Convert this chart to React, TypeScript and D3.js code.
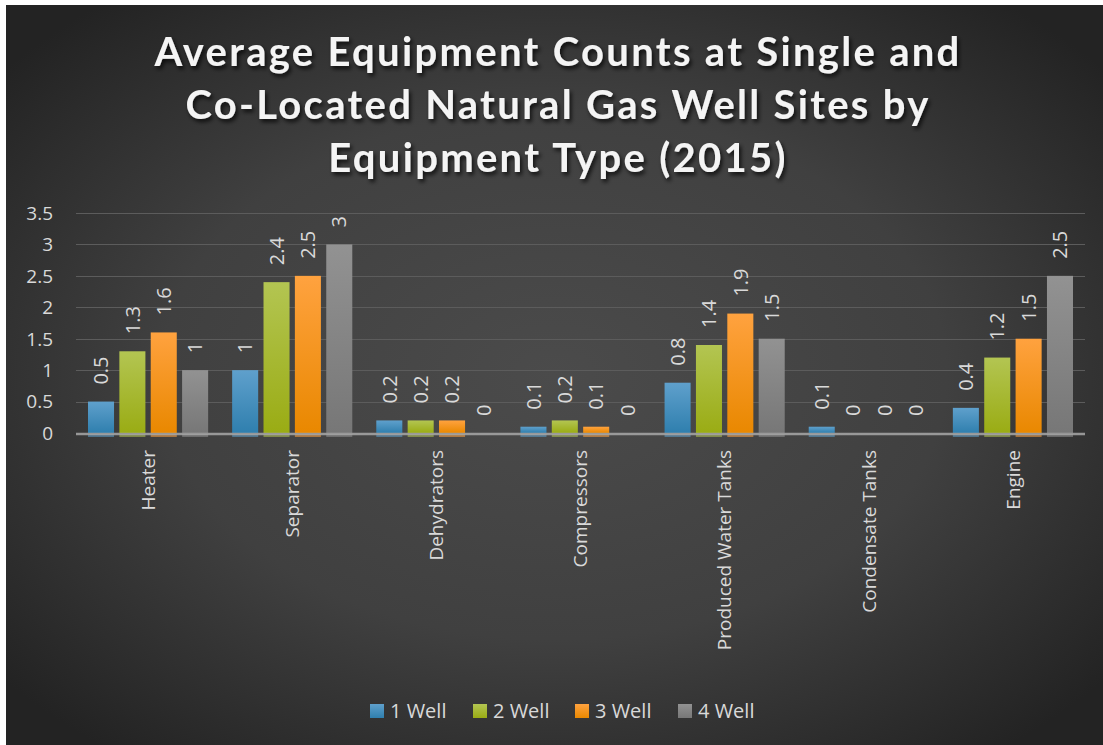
import React from "react";
import * as d3 from "d3";

const categories = [
  "Heater",
  "Separator",
  "Dehydrators",
  "Compressors",
  "Produced Water Tanks",
  "Condensate Tanks",
  "Engine",
];
const seriesNames = ["1 Well", "2 Well", "3 Well", "4 Well"];
const well1 = [0.5, 1, 0.2, 0.1, 0.8, 0.1, 0.4];
const well2 = [1.3, 2.4, 0.2, 0.2, 1.4, 0, 1.2];
const well3 = [1.6, 2.5, 0.2, 0.1, 1.9, 0, 1.5];
const well4 = [1, 3, 0, 0, 1.5, 0, 2.5];
const yTicks = [0, 0.5, 1, 1.5, 2, 2.5, 3, 3.5];
const titleLines = [
  "Average Equipment Counts at Single and",
  "Co-Located Natural Gas Well Sites by",
  "Equipment Type (2015)",
];

const seriesValues = [well1, well2, well3, well4];
const seriesColors = [
  { top: "#5fa0cc", bottom: "#2f7fae" },
  { top: "#b3c552", bottom: "#9aac14" },
  { top: "#ffa23f", bottom: "#e98800" },
  { top: "#929292", bottom: "#777777" },
];

const W = 1097;
const H = 740;
const OX = 6; // svg offset inside page
const OY = 5;

export default function App() {
  const plotLeft = 76 - OX;
  const plotRight = 1085 - OX;
  const yZero = 433 - OY;
  const yTop = 213 - OY;

  const x = d3.scaleBand<string>().domain(categories).range([plotLeft, plotRight]).padding(0);
  const xs = d3
    .scaleBand<string>()
    .domain(seriesNames)
    .range([12, x.bandwidth() - 12])
    .paddingInner(0.17)
    .paddingOuter(0);
  const y = d3.scaleLinear().domain([0, 3.5]).range([yZero, yTop]);

  const labelFont = "'Open Sans', 'DejaVu Sans', sans-serif";
  const labelColor = "#d9d9d9";

  const legendX = [370, 473, 575, 678].map((v) => v - OX);

  return (
    <svg
      width={W}
      height={H}
      style={{ position: "absolute", left: OX, top: OY, display: "block" }}
    >
      <defs>
        <radialGradient id="bg" cx="50%" cy="50%" r="65%">
          <stop offset="0%" stopColor="#4b4b4b" />
          <stop offset="55%" stopColor="#404040" />
          <stop offset="100%" stopColor="#232323" />
        </radialGradient>
        {seriesColors.map((c, i) => (
          <linearGradient key={i} id={`bar${i}`} x1="0" y1="0" x2="0" y2="1">
            <stop offset="0%" stopColor={c.top} />
            <stop offset="100%" stopColor={c.bottom} />
          </linearGradient>
        ))}
        <filter id="shadow" x="-10%" y="-30%" width="120%" height="160%">
          <feDropShadow dx="2" dy="3" stdDeviation="2" floodColor="#000" floodOpacity="0.75" />
        </filter>
      </defs>

      <rect x={0} y={0} width={W} height={H} fill="url(#bg)" />

      {/* title */}
      <g filter="url(#shadow)">
        {titleLines.map((t, i) => (
          <text
            key={i}
            x={558 - OX}
            y={66 - OY + i * 53}
            textAnchor="middle"
            fill="#f4f4f4"
            fontFamily="Lato, 'Open Sans', sans-serif"
            fontWeight={700}
            fontSize={40}
            letterSpacing={2.3}
          >
            {t}
          </text>
        ))}
      </g>

      {/* gridlines */}
      {yTicks.slice(1).map((t) => (
        <line
          key={t}
          x1={plotLeft}
          x2={plotRight}
          y1={Math.round(y(t)) + 0.5}
          y2={Math.round(y(t)) + 0.5}
          stroke="#5c5c5c"
          strokeWidth={1.2}
        />
      ))}

      {/* y tick labels */}
      {yTicks.map((t) => (
        <text
          key={t}
          x={53 - OX}
          y={y(t)}
          dy="0.36em"
          textAnchor="end"
          fill={labelColor}
          fontFamily={labelFont}
          fontSize={19}
        >
          {t}
        </text>
      ))}

      {/* bars */}
      {categories.map((cat, ci) => (
        <g key={cat} transform={`translate(${x(cat)},0)`}>
          {seriesNames.map((s, si) => {
            const v = seriesValues[si][ci];
            const bx = xs(s)!;
            const bw = xs.bandwidth();
            const top = y(v);
            return (
              <g key={s}>
                {v > 0 && (
                  <rect x={bx} y={top} width={bw} height={yZero - top} fill={`url(#bar${si})`} />
                )}
                {/* faint reflection under the axis */}
                <rect
                  x={bx}
                  y={yZero + 1}
                  width={bw}
                  height={3}
                  fill={seriesColors[si].top}
                  opacity={v > 0 ? 0.55 : 0}
                />
                <text
                  transform={`translate(${bx + bw / 2},${top - 17}) rotate(-90)`}
                  dy="0.36em"
                  textAnchor="start"
                  fill={labelColor}
                  fontFamily={labelFont}
                  fontSize={20}
                >
                  {v}
                </text>
              </g>
            );
          })}
        </g>
      ))}

      {/* axis line */}
      <line x1={plotLeft} x2={plotRight} y1={yZero + 1} y2={yZero + 1} stroke="#a8a8a8" strokeWidth={2.5} opacity={0.85} />

      {/* category labels */}
      {categories.map((cat) => (
        <text
          key={cat}
          transform={`translate(${x(cat)! + x.bandwidth() / 2},${450 - OY}) rotate(-90)`}
          dy="0.36em"
          textAnchor="end"
          fill={labelColor}
          fontFamily={labelFont}
          fontSize={19}
        >
          {cat}
        </text>
      ))}

      {/* legend */}
      {seriesNames.map((s, i) => (
        <g key={s} transform={`translate(${legendX[i]},${711 - OY})`}>
          <rect x={0} y={-7} width={14} height={14} fill={`url(#bar${i})`} />
          <text x={20} y={0} dy="0.36em" fill={labelColor} fontFamily={labelFont} fontSize={20}>
            {s}
          </text>
        </g>
      ))}
    </svg>
  );
}
